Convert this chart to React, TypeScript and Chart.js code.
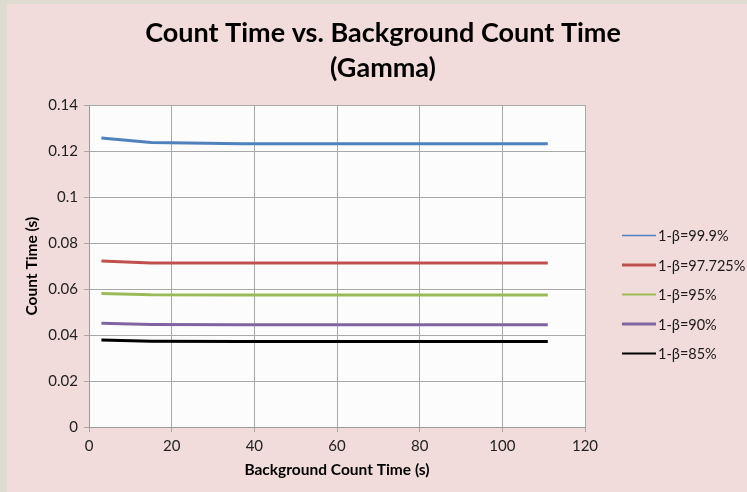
import React, { useEffect, useRef } from "react";
import { Chart, registerables } from "chart.js";

Chart.register(...registerables);

const xValues = [3, 15, 37, 74, 111];
const seriesLabels = ["1-β=99.9%", "1-β=97.725%", "1-β=95%", "1-β=90%", "1-β=85%"];
const s999 = [0.1257, 0.1238, 0.1232, 0.1232, 0.1232];
const s97725 = [0.0722, 0.0714, 0.0713, 0.0713, 0.0713];
const s95 = [0.0581, 0.0575, 0.0574, 0.0574, 0.0574];
const s90 = [0.0451, 0.0446, 0.0445, 0.0445, 0.0445];
const s85 = [0.0378, 0.0373, 0.0372, 0.0372, 0.0372];
const seriesValues = [s999, s97725, s95, s90, s85];
const colors = ["#4f81bd", "#c0504d", "#9bbb59", "#8064a2", "#000000"];
const legendLineWidths = [1.5, 3, 2, 3, 2];

const FONT = "Lato, 'Open Sans', sans-serif";

const bgPlugin = {
  id: "bgPlugin",
  beforeDraw(chart: any) {
    const { ctx, chartArea } = chart;
    ctx.save();
    ctx.fillStyle = "#f2dcdb";
    ctx.fillRect(0, 0, chart.width, chart.height);
    ctx.fillStyle = "#fcfcfc";
    ctx.fillRect(chartArea.left, chartArea.top, chartArea.right - chartArea.left, chartArea.bottom - chartArea.top);
    ctx.restore();
  },
};

const legendPlugin = {
  id: "customLegend",
  afterDraw(chart: any) {
    const { ctx, chartArea } = chart;
    ctx.save();
    ctx.font = `14.5px ${FONT}`;
    ctx.textBaseline = "middle";
    ctx.textAlign = "left";
    const x0 = chartArea.right + 37;
    chart.data.datasets.forEach((ds: any, i: number) => {
      const y = 231.5 + i * 29.5;
      ctx.strokeStyle = ds.borderColor;
      ctx.lineWidth = legendLineWidths[i];
      ctx.beginPath();
      ctx.moveTo(x0, y);
      ctx.lineTo(x0 + 34, y);
      ctx.stroke();
      ctx.fillStyle = "#1a1a1a";
      ctx.fillText(ds.label, x0 + 36, y + 1);
    });
    ctx.restore();
  },
};

export default function App() {
  const ref = useRef<HTMLCanvasElement | null>(null);
  useEffect(() => {
    if (!ref.current) return;
    const chart = new Chart(ref.current, {
      type: "line",
      data: {
        datasets: seriesLabels.map((label, i) => ({
          label,
          data: xValues.map((x, j) => ({ x, y: seriesValues[i][j] })),
          borderColor: colors[i],
          backgroundColor: colors[i],
          borderWidth: 3,
          pointRadius: 0,
          tension: 0,
          yAxisID: "y",
        })),
      },
      options: {
        animation: false,
        responsive: false,
        layout: { padding: { left: 12, right: 0, top: 0, bottom: 9 } },
        plugins: {
          legend: { display: false },
          tooltip: { enabled: false },
          title: {
            display: true,
            text: ["Count Time vs. Background Count Time", "(Gamma)"],
            color: "#000",
            font: { family: FONT, size: 27, weight: "bold", lineHeight: 1.3 },
            padding: { top: 12, bottom: 19 },
          },
        },
        scales: {
          x: {
            type: "linear",
            min: 0,
            max: 120,
            ticks: { stepSize: 20, color: "#222", font: { family: FONT, size: 15 }, padding: 5 },
            grid: { color: "#a8a8a8", tickLength: 5, tickColor: "#a8a8a8" },
            border: { color: "#9a9a9a" },
            title: {
              display: true,
              text: "Background Count Time (s)",
              color: "#000",
              font: { family: FONT, size: 15.5, weight: "bold" },
            },
            afterFit(scale: any) {
              scale.height = 56;
            },
          },
          y: {
            min: 0,
            max: 0.14,
            ticks: {
              stepSize: 0.02,
              color: "#222",
              font: { family: FONT, size: 15 },
              padding: 6,
              callback: (v: any) => String(Number(Number(v).toFixed(2))),
            },
            grid: { color: "#a8a8a8", tickLength: 5, tickColor: "#a8a8a8" },
            border: { color: "#9a9a9a" },
            title: {
              display: true,
              text: "Count Time (s)",
              color: "#000",
              font: { family: FONT, size: 15.5, weight: "bold" },
            },
            afterFit(scale: any) {
              scale.width = 70;
            },
          },
          yRight: {
            position: "right",
            display: true,
            ticks: { display: false },
            grid: { display: false },
            border: { display: false },
            afterFit(scale: any) {
              scale.width = 162;
            },
          },
        },
      },
      plugins: [bgPlugin, legendPlugin],
    });
    return () => chart.destroy();
  }, []);
  return (
    <div style={{ position: "fixed", left: 0, top: 0, width: 747, height: 492, background: "#dedbd1" }}>
      <canvas
        ref={ref}
        width={740}
        height={488}
        style={{ position: "absolute", left: 7, top: 4, width: 740, height: 488 }}
      />
    </div>
  );
}
